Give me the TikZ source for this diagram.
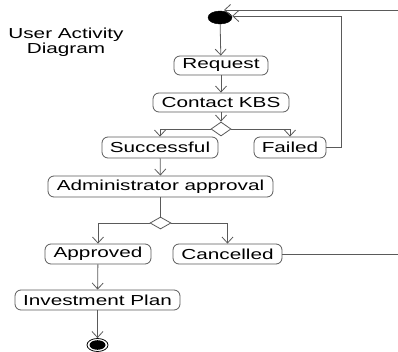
\documentclass[tikz,border=0pt]{standalone}
\usepackage{fontspec}
\newfontfamily\uafont[FakeStretch=1.43]{Liberation Sans}
\usetikzlibrary{shapes.geometric,arrows.meta}
\definecolor{linegray}{HTML}{5A5A5A}
\begin{document}
\begin{tikzpicture}[x=1pt,y=-1pt,
  font=\uafont\fontsize{14.5}{15}\selectfont,
  act/.style={draw=linegray,line width=0.8pt,rounded corners=6pt,fill=white,inner sep=0pt,minimum height=20pt,text=black},
  dec/.style={draw=linegray,line width=0.8pt,diamond,fill=white,inner sep=0pt,aspect=1.5},
  flow/.style={draw=linegray,line width=0.8pt,-{Straight Barb[length=6pt,width=11pt]}},
  plain/.style={draw=linegray,line width=0.8pt}]
\useasboundingbox (0,0) rectangle (398,352);
% title
\node[align=center,text=black] (title) at (66,42) {User Activity\\Diagram};
% nodes
\node[ellipse,fill=black,draw=black,minimum width=24pt,minimum height=13pt,inner sep=0pt] (start) at (220,17.5) {};
\node[act,minimum width=94pt,minimum height=19pt] (req) at (221,65.5) {Request};
\node[act,minimum width=136pt,minimum height=19pt] (kbs) at (221,102.5) {Contact KBS};
\node[dec,minimum width=20pt,minimum height=14pt] (d1) at (221,129) {};
\node[act,minimum width=116pt,minimum height=21pt] (succ) at (160,147.5) {Successful};
\node[act,minimum width=72pt,minimum height=21pt] (fail) at (290,147.5) {Failed};
\node[act,minimum width=225pt,minimum height=21pt] (admin) at (160.5,186.5) {Administrator approval};
\node[dec,minimum width=21pt,minimum height=12pt] (d2) at (160.5,223) {};
\node[act,minimum width=106pt] (appr) at (98,254) {Approved};
\node[act,minimum width=109pt] (canc) at (227.5,254) {Cancelled};
\node[act,minimum width=165pt] (inv) at (97.5,300) {Investment Plan};
\node[ellipse,draw=black,line width=0.8pt,minimum width=21pt,minimum height=13pt,inner sep=0pt] (end) at (97.5,345) {};
\fill[black] (end.center) ellipse [x radius=8pt,y radius=4.8pt];
% free ends
\coordinate (fr) at (341,16);
\coordinate (cr) at (398,254);
\coordinate (ct) at (398,10);
\coordinate (tt) at (224,10);
% connectors
\draw[flow] (start) -- (req);
\draw[flow] (req) -- (kbs);
\draw[flow] (kbs) -- (d1);
\draw[flow] (d1.west) -| (succ.north);
\draw[flow] (d1.east) -| (fail.north);
\draw[flow] (fail.east) -| (fr) -- (fr -| start.east);
\draw[flow] (succ) -- (admin);
\draw[plain] (admin) -- (d2);
\draw[flow] (d2.west) -| (appr.north);
\draw[flow] (d2.east) -| (canc.north);
\draw[plain] (canc.east) -- (cr);
\draw[flow] (ct) -- (tt);
\draw[flow] (appr) -- (inv);
\draw[flow] (inv) -- (end);
\end{tikzpicture}
\end{document}
